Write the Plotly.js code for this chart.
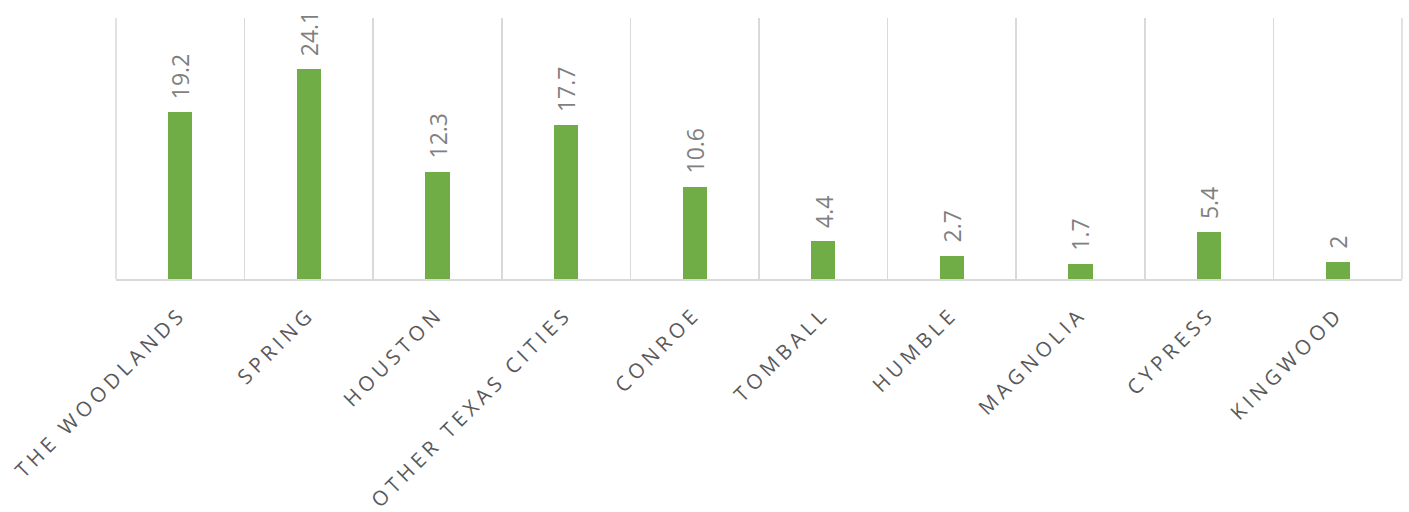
<!DOCTYPE html>
<html>
<head>
<meta charset="utf-8">
<script src="https://cdn.plot.ly/plotly-3.0.1.min.js"></script>
<style>
  html, body { margin: 0; padding: 0; background: #ffffff; }
  #chart { width: 1409px; height: 512px; }
  .xtick text { letter-spacing: 4.4px; }
</style>
</head>
<body>
<div id="chart"></div>
<script>
const categories = ["THE WOODLANDS", "SPRING", "HOUSTON", "OTHER TEXAS CITIES", "CONROE",
                    "TOMBALL", "HUMBLE", "MAGNOLIA", "CYPRESS", "KINGWOOD"];
const values = [19.2, 24.1, 12.3, 17.7, 10.6, 4.4, 2.7, 1.7, 5.4, 2];
const valueLabels = ["19.2", "24.1", "12.3", "17.7", "10.6", "4.4", "2.7", "1.7", "5.4", "2"];

const trace = {
  type: "bar",
  x: categories,
  y: values,
  marker: { color: "#70AD47" },
  width: 0.187,
  hoverinfo: "x+y"
};

const annotations = categories.map((c, i) => ({
  x: c,
  y: values[i],
  xref: "x",
  yref: "y",
  text: valueLabels[i],
  showarrow: false,
  textangle: -90,
  xanchor: "center",
  yanchor: "bottom",
  yshift: 11,
  font: { family: "Open Sans, Liberation Sans, sans-serif", size: 23, color: "#7F7F7F" }
}));

const frameLines = [0, 1].map(px => ({
  type: "line",
  xref: "paper",
  yref: "paper",
  x0: px, x1: px, y0: 0, y1: 1,
  line: { color: "#D9D9D9", width: 1.5 },
  layer: "below"
}));

const layout = {
  width: 1409,
  height: 512,
  margin: { l: 116, r: 7, t: 18, b: 233 },
  paper_bgcolor: "#ffffff",
  plot_bgcolor: "#ffffff",
  showlegend: false,
  bargap: 0,
  xaxis: {
    type: "category",
    tickson: "boundaries",
    showgrid: true,
    gridcolor: "#D9D9D9",
    gridwidth: 1.5,
    showline: true,
    linecolor: "#D9D9D9",
    linewidth: 2,
    mirror: false,
    ticks: "",
    tickangle: -45,
    ticklabelstandoff: 13,
    tickfont: { family: "Open Sans, sans-serif", size: 20.5, color: "#595959" },
    automargin: false,
    range: [-0.5, categories.length - 0.5]
  },
  yaxis: {
    range: [0, 30],
    visible: false,
    showgrid: false,
    zeroline: false,
    fixedrange: true
  },
  shapes: frameLines,
  annotations: annotations
};

Plotly.newPlot("chart", [trace], layout, { displayModeBar: false, staticPlot: true });
</script>
</body>
</html>
